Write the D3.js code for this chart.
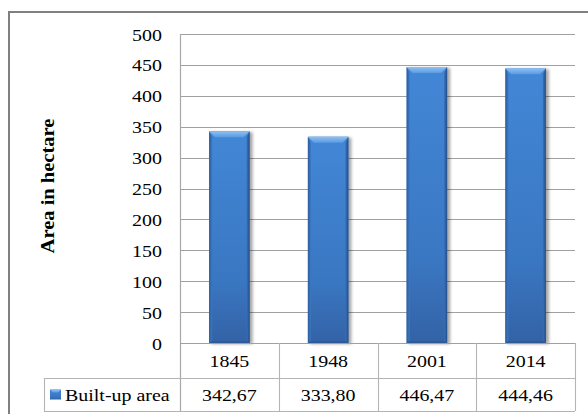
<!DOCTYPE html>
<html>
<head>
<meta charset="utf-8">
<script src="https://cdn.jsdelivr.net/npm/d3@7"></script>
<style>
  html, body { margin: 0; padding: 0; background: #fff; }
  svg { display: block; }
</style>
</head>
<body>
<svg id="chart" width="588" height="414" font-family="Liberation Serif, Times New Roman, serif"></svg>
<script>
// Built-up area per survey year (hectares)
const years = ["1845", "1948", "2001", "2014"];
const builtUp = [342.67, 333.80, 446.47, 444.46];
const valueLabels = ["342,67", "333,80", "446,47", "444,46"];
const yTicks = [0, 50, 100, 150, 200, 250, 300, 350, 400, 450, 500];
const seriesName = "Built-up area";
const yTitle = "Area in hectare";

const FONT = "'Liberation Serif', 'Times New Roman', serif";
const FS = 17.5;      // label font size
const SX = 1.14;      // labels are set slightly wide

const svg = d3.select("#chart");
const plot = { left: 180, right: 575, top: 34, bottom: 343 };
const rowH = [35, 33];

const x = d3.scaleBand().domain(years).range([plot.left, plot.right])
  .paddingInner(0.59).paddingOuter(0.295);
const y = d3.scaleLinear().domain([0, 500]).range([plot.bottom, plot.top]);

// place a wide-set label at (px, py)
function label(g, px, py, txt, anchor) {
  return g.append("text")
    .attr("transform", `translate(${px},${py}) scale(${SX},1)`)
    .attr("text-anchor", anchor || "start")
    .style("font-family", FONT).style("font-size", FS + "px").attr("fill", "#000")
    .text(txt);
}

// gradients for the bevelled bars
const defs = svg.append("defs");
const body = defs.append("linearGradient").attr("id", "barBody")
  .attr("x1", 0).attr("y1", 0).attr("x2", 0).attr("y2", 1);
body.append("stop").attr("offset", "0%").attr("stop-color", "#4287d6");
body.append("stop").attr("offset", "70%").attr("stop-color", "#3a77c2");
body.append("stop").attr("offset", "100%").attr("stop-color", "#3362a6");
const topG = defs.append("linearGradient").attr("id", "barTop")
  .attr("x1", 0).attr("y1", 0).attr("x2", 0).attr("y2", 1);
topG.append("stop").attr("offset", "0%").attr("stop-color", "#8fc0f2");
topG.append("stop").attr("offset", "100%").attr("stop-color", "#5b9be3");
const leftG = defs.append("linearGradient").attr("id", "barLeft");
leftG.append("stop").attr("offset", "0%").attr("stop-color", "#2d5d9e");
leftG.append("stop").attr("offset", "100%").attr("stop-color", "#3b78c3");
const rightG = defs.append("linearGradient").attr("id", "barRight");
rightG.append("stop").attr("offset", "0%").attr("stop-color", "#3970b8");
rightG.append("stop").attr("offset", "100%").attr("stop-color", "#234f8c");
defs.append("filter").attr("id", "shadow").attr("x", "-30%").attr("y", "-10%")
  .attr("width", "160%").attr("height", "130%")
  .append("feGaussianBlur").attr("stdDeviation", 1.6);

// outer frame
svg.append("rect").attr("x", 9).attr("y", 12).attr("width", 600).attr("height", 420)
  .attr("fill", "none").attr("stroke", "#808080").attr("stroke-width", 2);

// horizontal gridlines
svg.append("g").selectAll("line").data(yTicks.filter(d => d > 0)).join("line")
  .attr("x1", plot.left).attr("x2", plot.right)
  .attr("y1", d => Math.round(y(d)) + 0.5).attr("y2", d => Math.round(y(d)) + 0.5)
  .attr("stroke", "#a0a0a0").attr("stroke-width", 1.2);

// y axis (ticks hidden, labels set wide)
const yAxis = d3.axisLeft(y).tickValues(yTicks).tickSize(0).tickPadding(0);
const gy = svg.append("g").attr("transform", `translate(${plot.left},0)`).call(yAxis);
gy.select(".domain").remove();
gy.selectAll(".tick text")
  .attr("x", null).attr("dy", null)
  .attr("transform", `translate(-18,6) scale(${SX},1)`)
  .attr("fill", "#000")
  .style("font-family", FONT).style("font-size", FS + "px");

// y axis title
svg.append("text")
  .attr("transform", `translate(54,186) rotate(-90) scale(1.08,1)`)
  .attr("text-anchor", "middle")
  .style("font-family", FONT).style("font-size", "19px").style("font-weight", "bold")
  .attr("fill", "#000")
  .text(yTitle);

// bars
const bevel = 6;
const bars = svg.append("g").selectAll("g").data(years).join("g");
bars.append("rect")
  .attr("x", d => x(d) + 2).attr("y", (d, i) => y(builtUp[i]) + 1)
  .attr("width", x.bandwidth() + 1).attr("height", (d, i) => plot.bottom - y(builtUp[i]))
  .attr("fill", "#000").attr("opacity", 0.35).attr("filter", "url(#shadow)");
bars.append("rect")
  .attr("x", d => x(d)).attr("y", (d, i) => y(builtUp[i]))
  .attr("width", x.bandwidth()).attr("height", (d, i) => plot.bottom - y(builtUp[i]))
  .attr("fill", "url(#barBody)");
bars.append("path").attr("fill", "url(#barLeft)")
  .attr("d", (d, i) => {
    const x0 = x(d), yt = y(builtUp[i]);
    return `M${x0},${yt}L${x0 + 3},${yt + bevel}L${x0 + 3},${plot.bottom - 2}L${x0},${plot.bottom}Z`;
  });
bars.append("path").attr("fill", "url(#barRight)")
  .attr("d", (d, i) => {
    const x1 = x(d) + x.bandwidth(), yt = y(builtUp[i]);
    return `M${x1},${yt}L${x1 - 3},${yt + bevel}L${x1 - 3},${plot.bottom - 2}L${x1},${plot.bottom}Z`;
  });
bars.append("path").attr("fill", "#2c5790").attr("opacity", 0.6)
  .attr("d", d => {
    const x0 = x(d), x1 = x0 + x.bandwidth();
    return `M${x0},${plot.bottom}L${x0 + 3},${plot.bottom - 2}L${x1 - 3},${plot.bottom - 2}L${x1},${plot.bottom}Z`;
  });
bars.append("path").attr("fill", "url(#barTop)")
  .attr("d", (d, i) => {
    const x0 = x(d), x1 = x0 + x.bandwidth(), yt = y(builtUp[i]);
    return `M${x0},${yt}L${x1},${yt}L${x1 - 6},${yt + bevel}L${x0 + 6},${yt + bevel}Z`;
  });

// plot left edge
svg.append("line").attr("x1", plot.left + 0.5).attr("x2", plot.left + 0.5)
  .attr("y1", plot.top).attr("y2", plot.bottom + rowH[0] + rowH[1])
  .attr("stroke", "#a8a8a8").attr("stroke-width", 1.2);

// data table below the plot
const tbl = svg.append("g").attr("stroke", "#b4b4b4").attr("stroke-width", 1.1);
const r0 = plot.bottom, r1 = plot.bottom + rowH[0], r2 = r1 + rowH[1];
const legendLeft = 44;
tbl.append("line").attr("x1", plot.left).attr("x2", plot.right).attr("y1", r0 + 0.5).attr("y2", r0 + 0.5)
  .attr("stroke", "#a0a0a0");
tbl.append("line").attr("x1", legendLeft).attr("x2", plot.right).attr("y1", r1 + 0.5).attr("y2", r1 + 0.5);
tbl.append("line").attr("x1", legendLeft).attr("x2", plot.right).attr("y1", r2 + 0.5).attr("y2", r2 + 0.5);
tbl.append("line").attr("x1", legendLeft + 0.5).attr("x2", legendLeft + 0.5).attr("y1", r1).attr("y2", r2);
const bounds = years.map(d => x(d) - x.step() * x.paddingOuter()).concat([plot.right]);
tbl.selectAll("line.sep").data(bounds.slice(1)).join("line").attr("class", "sep")
  .attr("x1", d => Math.round(d) + 0.5).attr("x2", d => Math.round(d) + 0.5)
  .attr("y1", r0).attr("y2", r2);

// year labels and values
const cells = svg.append("g");
years.forEach((yr, i) => {
  const cx = x(yr) + x.bandwidth() / 2;
  label(cells, cx, (r0 + r1) / 2 + 6, yr, "middle");
  label(cells, cx, (r1 + r2) / 2 + 6, valueLabels[i], "middle");
});

// legend key and series name
const key = svg.append("g").attr("transform", `translate(50,${(r1 + r2) / 2 - 5})`);
key.append("rect").attr("width", 11).attr("height", 10).attr("fill", "url(#barBody)");
key.append("path").attr("d", "M0,0L11,0L8,3L3,3Z").attr("fill", "url(#barTop)");
label(svg, 65, (r1 + r2) / 2 + 6, seriesName);
</script>
</body>
</html>
